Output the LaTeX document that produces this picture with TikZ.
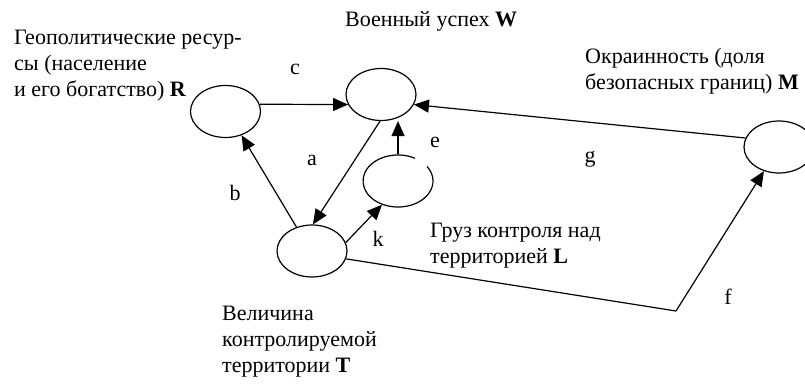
\documentclass[tikz,border=0pt]{standalone}
\usepackage{fontspec}
\setmainfont{Liberation Serif}
\usetikzlibrary{shapes.geometric,arrows.meta}
\begin{document}
\begin{tikzpicture}[x=1pt,y=1pt,
  var/.style={draw,ellipse,line width=1.2pt,minimum width=70pt,minimum height=52pt,inner sep=0pt},
  lbl/.style={anchor=base,font=\fontsize{22}{26}\selectfont,inner sep=0pt},
  txt/.style={anchor=base west,align=left,font=\fontsize{22}{26}\selectfont,inner sep=0pt},
  arr/.style={line width=1.2pt,-{Triangle[length=15pt,width=13pt]}}]
\useasboundingbox (0,0) rectangle (805,383);
% variables
\node[var] (R) at (225.5,271.5) {};
\node[var] (W) at (381,288.5) {};
\node[var,draw=none] (L) at (398,202) {};
\node[var] (T) at (312,132) {};
\node[var] (M) at (779,236) {};
\coordinate (fc) at (676,72);
% L is drawn open at the top right
\draw[line width=1.2pt] ([shift={(61:35pt and 26pt)}]L.center) arc[start angle=61,end angle=394,x radius=35pt,y radius=26pt];
% texts (placed by the baseline of their last line)
\node[txt] (tW) at (345,356) {Военный успех \textbf{W}};
\node[txt] (tR) at (14,286) {Геополитические ресур-\\сы (население\\и его богатство) \textbf{R}};
\node[txt] (tM) at (585,293) {Окраинность (доля\\безопасных границ) \textbf{M}};
\node[txt] (tL) at (430,120) {Груз контроля над\\территорией \textbf{L}};
\node[txt] (tT) at (222,11) {Величина\\контролируемой\\территории \textbf{T}};
% links
\draw[arr] (R.12) -- (W.197);
\draw[arr] (T.123) -- (R.304);
\draw[arr] (W.268) -- (T.88);
\draw[arr] (T.14) -- (L.236);
\draw[arr] (L.north) -- (L.north |- W.south);
\draw[arr] (M.165) -- (W.343);
\draw[arr] (T.347) -- (fc) -- (M.238);
\node[lbl] (c) at (295,308) {c};
\node[lbl] (a) at (312,217) {a};
\node[lbl] (b) at (235,182) {b};
\node[lbl] (e) at (435,235) {e};
\node[lbl] (g) at (590,220) {g};
\node[lbl] (k) at (378,136) {k};
\node[lbl] (f) at (728,79) {f};
\end{tikzpicture}
\end{document}
